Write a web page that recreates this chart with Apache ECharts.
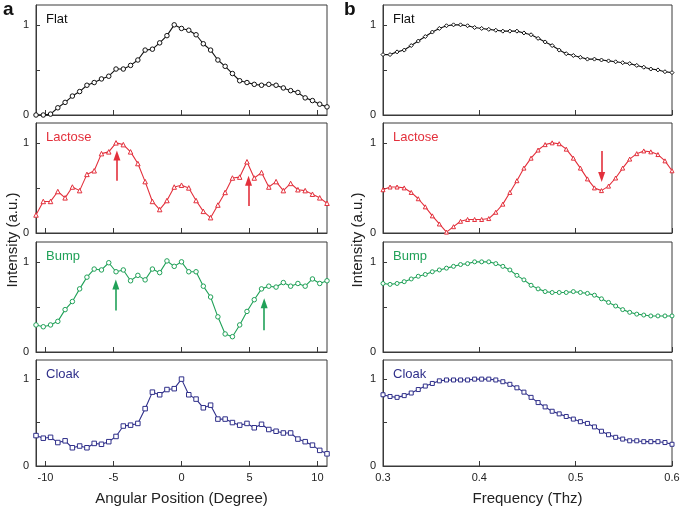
<!DOCTYPE html>
<html><head><meta charset="utf-8">
<script src="https://cdn.jsdelivr.net/npm/echarts@6/dist/echarts.min.js"></script>
<style>html,body{margin:0;padding:0;background:#fff}#c{width:685px;height:507px}</style>
</head><body><div id="c"></div>
<script>
// ---------- DATA ----------
const angleX = [-10.7,-10.165,-9.63,-9.095,-8.56,-8.025,-7.49,-6.955,-6.42,-5.885,-5.35,-4.815,-4.28,-3.745,-3.21,-2.675,-2.14,-1.605,-1.07,-0.535,0,0.535,1.07,1.605,2.14,2.675,3.21,3.745,4.28,4.815,5.35,5.885,6.42,6.955,7.49,8.025,8.56,9.095,9.63,10.165,10.7];
const flatA = [0.00,0.00,0.01,0.08,0.14,0.21,0.26,0.33,0.36,0.40,0.43,0.51,0.51,0.55,0.61,0.72,0.73,0.80,0.88,1.00,0.96,0.94,0.89,0.79,0.72,0.61,0.54,0.46,0.38,0.36,0.34,0.33,0.34,0.33,0.30,0.27,0.25,0.19,0.16,0.12,0.09];
const lactoseA = [0.20,0.35,0.35,0.46,0.39,0.51,0.47,0.65,0.69,0.88,0.90,1.00,0.98,0.90,0.77,0.57,0.35,0.26,0.36,0.51,0.53,0.50,0.36,0.24,0.17,0.31,0.45,0.61,0.62,0.79,0.61,0.67,0.51,0.57,0.47,0.55,0.48,0.47,0.43,0.39,0.33];
const bumpA = [0.30,0.28,0.30,0.34,0.47,0.56,0.70,0.83,0.92,0.91,0.99,0.89,0.91,0.79,0.85,0.80,0.92,0.88,1.01,0.95,1.00,0.89,0.89,0.73,0.61,0.39,0.20,0.17,0.30,0.45,0.58,0.70,0.73,0.72,0.77,0.73,0.76,0.73,0.81,0.76,0.79];
const cloakA = [0.35,0.32,0.33,0.27,0.29,0.21,0.23,0.21,0.26,0.25,0.28,0.34,0.46,0.47,0.49,0.66,0.85,0.82,0.88,0.89,1.00,0.82,0.77,0.67,0.70,0.54,0.54,0.50,0.47,0.49,0.44,0.48,0.42,0.40,0.38,0.38,0.31,0.28,0.24,0.18,0.14];

const freqX = [0.3,0.3073,0.3146,0.3220,0.3293,0.3366,0.3439,0.3512,0.3585,0.3659,0.3732,0.3805,0.3878,0.3951,0.4024,0.4098,0.4171,0.4244,0.4317,0.4390,0.4463,0.4537,0.4610,0.4683,0.4756,0.4829,0.4902,0.4976,0.5049,0.5122,0.5195,0.5268,0.5341,0.5415,0.5488,0.5561,0.5634,0.5707,0.5780,0.5854,0.5927,0.6];
const flatB = [0.67,0.67,0.70,0.72,0.77,0.82,0.87,0.92,0.96,0.99,1.00,1.00,0.99,0.97,0.96,0.95,0.94,0.93,0.93,0.93,0.91,0.89,0.85,0.81,0.77,0.72,0.68,0.66,0.64,0.62,0.62,0.61,0.60,0.59,0.58,0.57,0.55,0.53,0.51,0.50,0.48,0.47];
const lactoseB = [0.48,0.51,0.51,0.50,0.45,0.38,0.29,0.19,0.10,0.01,0.07,0.13,0.15,0.15,0.15,0.16,0.23,0.32,0.45,0.58,0.72,0.83,0.92,0.98,1.00,0.99,0.93,0.83,0.72,0.60,0.50,0.47,0.52,0.61,0.72,0.82,0.88,0.91,0.90,0.87,0.80,0.69];
const bumpB = [0.76,0.75,0.76,0.78,0.81,0.84,0.86,0.89,0.91,0.93,0.95,0.97,0.98,1.00,1.00,1.00,0.98,0.95,0.91,0.85,0.80,0.74,0.70,0.67,0.66,0.66,0.66,0.67,0.66,0.65,0.63,0.59,0.55,0.51,0.47,0.44,0.42,0.41,0.40,0.40,0.40,0.40];
const cloakB = [0.82,0.80,0.79,0.81,0.84,0.88,0.92,0.95,0.98,0.99,0.99,0.99,0.99,1.00,1.00,1.00,0.99,0.97,0.94,0.90,0.85,0.79,0.73,0.68,0.63,0.60,0.57,0.54,0.51,0.49,0.45,0.40,0.36,0.33,0.31,0.29,0.29,0.28,0.28,0.28,0.27,0.25];

const panelNames = ['Flat','Lactose','Bump','Cloak'];
const angleTicks = [-10,-5,0,5,10];
const freqTicks = [0.3,0.4,0.5,0.6];
const yTicks = [0,0.5,1];
// arrows: [panel index, x, yStart, yEnd]
const arrowsA = [[1,-4.75,0.58,0.86],[1,4.93,0.30,0.58],[2,-4.83,0.46,0.75],[2,6.08,0.24,0.54]];
const arrowsB = [[1,0.527,0.91,0.62]];

// ---------- STYLE ----------
const colors = ['#111111','#e3303c','#20a158','#2f2f8a'];
const symA = ['circle','triangle','circle','rect'];
const symB = ['diamond','triangle','circle','rect'];
const tops = [5,123,242,360];
const panelH = 110;
const FONT = '"Liberation Sans", Arial, Helvetica, sans-serif';

const grids=[], xAxes=[], yAxes=[], series=[], graphics=[];
function addPanel(side, p){
  const gi = grids.length;
  const left = side===0 ? 36 : 383;
  const width = side===0 ? 291 : 289;
  grids.push({left:left, top:tops[p], width:width, height:panelH, show:true, borderColor:'#3a3a3a', borderWidth:1, backgroundColor:'transparent'});
  const bottom = p===3;
  const ticks = side===0 ? angleTicks : freqTicks;
  xAxes.push({type:'value', gridIndex:gi,
    min: side===0 ? -10.7 : 0.3, max: side===0 ? 10.7 : 0.6,
    axisLine:{show:true, onZero:false, lineStyle:{color:'#3a3a3a', width:1}},
    axisTick:{show:true, inside:true, length:5, customValues:ticks, lineStyle:{color:'#3a3a3a'}},
    axisLabel:{show:bottom, customValues:ticks, color:'#222', fontSize:11, fontFamily:FONT, margin:6,
      formatter: v => side===0 ? String(v) : v.toFixed(1)},
    splitLine:{show:false},
    name: bottom ? (side===0 ? 'Angular Position (Degree)' : 'Frequency (Thz)') : '',
    nameLocation:'middle', nameGap:25,
    nameTextStyle:{color:'#222', fontSize:15, fontFamily:FONT}
  });
  yAxes.push({type:'value', gridIndex:gi, min:0, max:1.22,
    axisLine:{show:true, onZero:false, lineStyle:{color:'#3a3a3a', width:1}},
    axisTick:{show:true, inside:true, length:4, customValues:yTicks, lineStyle:{color:'#3a3a3a'}},
    axisLabel:{show:true, customValues:[0,1], color:'#222', fontSize:11, fontFamily:FONT, margin:7,
      formatter: v => String(v)},
    splitLine:{show:false}
  });
  const xs = side===0 ? angleX : freqX;
  const ys = side===0 ? [flatA,lactoseA,bumpA,cloakA][p] : [flatB,lactoseB,bumpB,cloakB][p];
  const arrows = (side===0 ? arrowsA : arrowsB).filter(a => a[0]===p);
  series.push({type:'line', xAxisIndex:gi, yAxisIndex:gi,
    data: xs.map((x,i)=>[x, ys[i]]),
    symbol: side===0 ? symA[p] : symB[p],
    symbolSize: side===0 ? 4.5 : 4,
    showAllSymbol:true,
    itemStyle:{color:'#fff', borderColor:colors[p], borderWidth:1},
    lineStyle:{color:colors[p], width:1.1},
    emphasis:{disabled:true}, silent:true, animation:false,
    markLine: arrows.length ? {silent:true, animation:false,
      symbol:['none','triangle'], symbolSize:[7,10],
      lineStyle:{color:colors[p], width:1.6, type:'solid'},
      label:{show:false},
      data: arrows.map(a => [{coord:[a[1],a[2]]},{coord:[a[1],a[3]]}])
    } : undefined
  });
  graphics.push({type:'text', left:left+10, top:tops[p]+8,
    style:{text:panelNames[p], fill:colors[p], font:'13px '+FONT}});
}
for (let s=0;s<2;s++) for (let p=0;p<4;p++) addPanel(s,p);

graphics.push({type:'text', left:3, top:0, style:{text:'a', fill:'#111', font:'bold 19px '+FONT}});
graphics.push({type:'text', left:344, top:0, style:{text:'b', fill:'#111', font:'bold 19px '+FONT}});
graphics.push({type:'text', x:13, y:240, rotation:Math.PI/2,
  style:{text:'Intensity (a.u.)', fill:'#222', font:'15px '+FONT, align:'center', verticalAlign:'middle'}});
graphics.push({type:'text', x:358, y:240, rotation:Math.PI/2,
  style:{text:'Intensity (a.u.)', fill:'#222', font:'15px '+FONT, align:'center', verticalAlign:'middle'}});

const chart = echarts.init(document.getElementById('c'), null, {renderer:'canvas'});
chart.setOption({animation:false, backgroundColor:'#fff',
  grid:grids, xAxis:xAxes, yAxis:yAxes, series:series, graphic:graphics});
</script></body></html>
